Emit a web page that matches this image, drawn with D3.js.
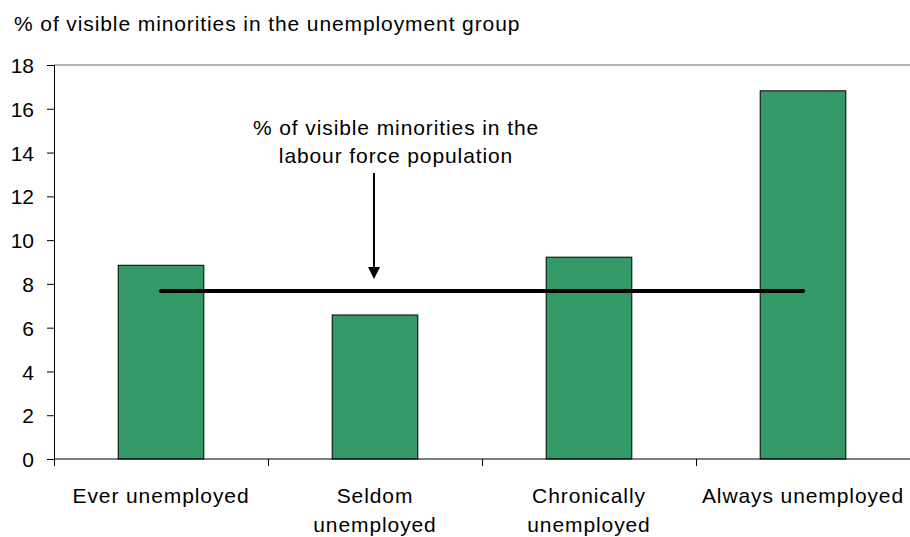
<!DOCTYPE html>
<html>
<head>
<meta charset="utf-8">
<script src="https://cdn.jsdelivr.net/npm/d3@7"></script>
<style>
  body { margin: 0; background: #fff; }
  text { font-family: "Liberation Sans", Arial, sans-serif; fill: #000; }
  .lbl { font-size: 21px; letter-spacing: 0.9px; }
</style>
</head>
<body>
<script>
// data
var categories = [["Ever unemployed"], ["Seldom", "unemployed"], ["Chronically", "unemployed"], ["Always unemployed"]];
var catKeys = ["ever", "seldom", "chronic", "always"];
var barValues = [8.85, 6.58, 9.22, 16.82];
var labourForce = 7.68;
var yTicks = [0, 2, 4, 6, 8, 10, 12, 14, 16, 18];
var titleText = "% of visible minorities in the unemployment group";
var noteLines = ["% of visible minorities in the", "labour force population"];

var W = 910, H = 537;
var margin = { left: 54, right: 0, top: 65, bottom: 78 };

var svg = d3.select("body").append("svg")
    .attr("width", W)
    .attr("height", H);

var x = d3.scaleBand()
    .domain(catKeys)
    .range([margin.left, W - margin.right])
    .paddingInner(0.6)
    .paddingOuter(0.3);

var xStep = d3.scaleLinear().domain([0, catKeys.length]).range([margin.left, W - margin.right]);

var y = d3.scaleLinear()
    .domain([0, 18])
    .range([H - margin.bottom, margin.top]);

// title
svg.append("text")
    .attr("class", "lbl")
    .attr("x", 14)
    .attr("y", 31)
    .text(titleText);

// top gridline at 18
svg.append("line")
    .attr("x1", margin.left).attr("x2", W)
    .attr("y1", y(18)).attr("y2", y(18))
    .attr("stroke", "#999").attr("stroke-width", 1.5);

// bars
svg.append("g").selectAll("rect")
    .data(barValues)
    .enter().append("rect")
    .attr("x", function (d, i) { return x(catKeys[i]); })
    .attr("width", x.bandwidth())
    .attr("y", function (d) { return y(d); })
    .attr("height", function (d) { return y(0) - y(d); })
    .attr("fill", "#339966")
    .attr("stroke", "#000")
    .attr("stroke-width", 1);

// y axis
var yAxis = svg.append("g")
    .attr("transform", "translate(" + margin.left + ",0)")
    .call(d3.axisLeft(y).tickValues(yTicks).tickSize(7).tickPadding(13));
yAxis.select(".domain").attr("stroke", "#000");
yAxis.selectAll("text").style("font-size", "21px").attr("dy", "0.36em");

// x axis line + ticks between categories
svg.append("line")
    .attr("x1", margin.left).attr("x2", W)
    .attr("y1", y(0)).attr("y2", y(0))
    .attr("stroke", "#000");
svg.append("g").selectAll("line")
    .data(d3.range(catKeys.length))
    .enter().append("line")
    .attr("x1", function (i) { return Math.round(xStep(i)) + 0.5; })
    .attr("x2", function (i) { return Math.round(xStep(i)) + 0.5; })
    .attr("y1", y(0)).attr("y2", y(0) + 7)
    .attr("stroke", "#000");

// category labels
var labels = svg.append("g").selectAll("text")
    .data(categories)
    .enter().append("text")
    .attr("class", "lbl")
    .attr("text-anchor", "middle")
    .attr("x", function (d, i) { return x(catKeys[i]) + x.bandwidth() / 2; })
    .attr("y", 503);
labels.selectAll("tspan")
    .data(function (d) { return d; })
    .enter().append("tspan")
    .attr("x", function () { return d3.select(this.parentNode).attr("x"); })
    .attr("dy", function (d, i) { return i === 0 ? 0 : 29; })
    .text(function (d) { return d; });

// labour force line
var line = d3.line()
    .x(function (d) { return x(d) + x.bandwidth() / 2; })
    .y(function () { return y(labourForce); });
svg.append("path")
    .datum(catKeys)
    .attr("d", line)
    .attr("fill", "none")
    .attr("stroke", "#000")
    .attr("stroke-width", 4)
    .attr("stroke-linecap", "round");

// annotation
var noteX = 396;
svg.append("g").selectAll("text")
    .data(noteLines)
    .enter().append("text")
    .attr("class", "lbl")
    .attr("x", noteX)
    .attr("y", function (d, i) { return 135 + i * 28; })
    .attr("text-anchor", "middle")
    .text(function (d) { return d; });

var arrowX = 374;
svg.append("line")
    .attr("x1", arrowX).attr("x2", arrowX)
    .attr("y1", 173).attr("y2", 268)
    .attr("stroke", "#000").attr("stroke-width", 2);
svg.append("path")
    .attr("d", d3.line()([[arrowX - 6, 267], [arrowX + 6, 267], [arrowX, 279]]) + "Z")
    .attr("fill", "#000");
</script>
</body>
</html>
